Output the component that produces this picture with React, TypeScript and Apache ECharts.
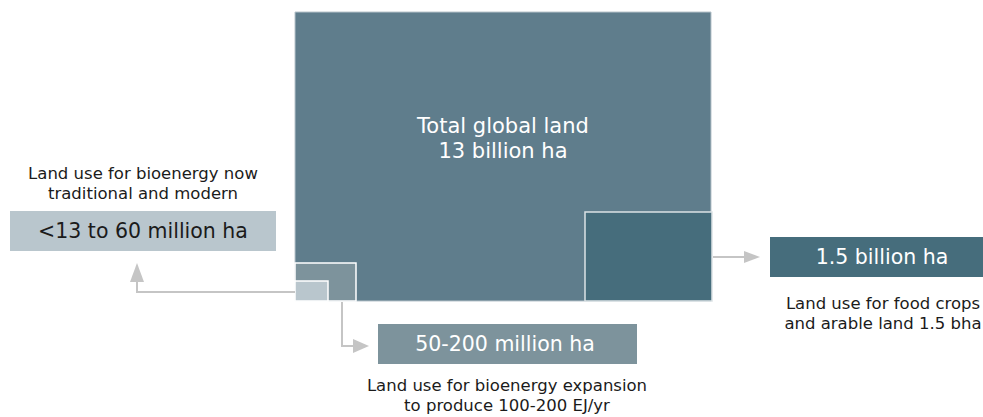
import React, { useEffect, useRef } from "react";
import * as echarts from "echarts";

// ---- data ----
const regionNames = ["Total global land", "Food crops and arable land", "Bioenergy expansion", "Bioenergy now"];
const regionAreasMha = [13000, 1500, 200, 60];
const centerTitle = ["Total global land", "13 billion ha"];
const boxLabels = ["<13 to 60 million ha", "1.5 billion ha", "50-200 million ha"];
const boxCaptions = [
  ["Land use for bioenergy now", "traditional and modern"],
  ["Land use for food crops", "and arable land 1.5 bha"],
  ["Land use for bioenergy expansion", "to produce 100-200 EJ/yr"],
];

// ---- layout (diagram coordinates on hidden axes) ----
const LAYOUT = {
  regions: [
    [295, 12, 711, 301],
    [585, 212, 712, 301],
    [295, 263, 356, 301],
    [295, 281, 328, 301],
  ],
  regionFill: ["#5f7d8c", "#466d7c", "#7d939c", "#b9c6cd"],
  regionStroke: ["#b8c4cb", "#dbe2e5", "#ffffff", "#ffffff"],
  titleCenter: [503, 125.5],
  titleStep: 25,
  boxes: [
    [10, 211, 276, 251],
    [770, 237, 1000, 277],
    [378, 324, 637, 364],
  ],
  boxFill: ["#b9c6cd", "#466d7c", "#7d939c"],
  boxText: ["#1b1b1b", "#ffffff", "#ffffff"],
  boxTextX: [143, 882, 505],
  captionX: [143, 883, 507],
  captionY: [173, 303, 385],
  captionStep: 20,
  arrows: [
    { path: [[295, 292], [137, 292], [137, 281]], head: [[137, 263], [130, 282], [144, 282]] },
    { path: [[342, 302], [342, 346], [354, 346]], head: [[369, 346], [353, 339], [353, 353]] },
    { path: [[713, 257], [745, 257]], head: [[760, 257], [744, 251], [744, 263]] },
  ],
};

const FONT = "'DejaVu Sans', sans-serif";
const ARROW = "#c5c5c5";

export default function App() {
  const ref = useRef<HTMLDivElement>(null);
  useEffect(() => {
    if (!ref.current) return;
    const chart = echarts.init(ref.current, undefined, { renderer: "svg" });
    const toPx = (api: any, p: number[]) => api.coord(p);

    const option: any = {
      animation: false,
      grid: { left: 0, right: 0, top: 0, bottom: 0 },
      xAxis: { type: "value", min: 0, max: 983, show: false },
      yAxis: { type: "value", min: 0, max: 417, inverse: true, show: false },
      series: [
        {
          type: "custom",
          name: "regions",
          clip: false,
          data: regionNames.map((n, i) => ({ name: n, value: [i, regionAreasMha[i]] })),
          renderItem: (params: any, api: any) => {
            const i = params.dataIndex;
            const r = LAYOUT.regions[i];
            const a = toPx(api, [r[0], r[1]]);
            const b = toPx(api, [r[2], r[3]]);
            const children: any[] = [
              {
                type: "rect",
                shape: { x: a[0], y: a[1], width: b[0] - a[0], height: b[1] - a[1] },
                style: { fill: LAYOUT.regionFill[i], stroke: LAYOUT.regionStroke[i], lineWidth: i === 0 ? 1 : 1.5 },
              },
            ];
            if (i === 0) {
              centerTitle.forEach((line, k) => {
                const c = toPx(api, [LAYOUT.titleCenter[0], LAYOUT.titleCenter[1] + k * LAYOUT.titleStep]);
                children.push({
                  type: "text",
                  style: {
                    text: line,
                    x: c[0],
                    y: c[1],
                    fill: "#ffffff",
                    fontSize: 21,
                    fontFamily: FONT,
                    align: "center",
                    verticalAlign: "middle",
                  },
                });
              });
            }
            return { type: "group", children };
          },
        },
        {
          type: "custom",
          name: "arrows",
          clip: false,
          data: LAYOUT.arrows.map((_, i) => [i, 0]),
          renderItem: (params: any, api: any) => {
            const ar = LAYOUT.arrows[params.dataIndex];
            return {
              type: "group",
              children: [
                {
                  type: "polyline",
                  shape: { points: ar.path.map((p) => toPx(api, p)) },
                  style: { stroke: ARROW, lineWidth: 2, fill: "none" },
                },
                {
                  type: "polygon",
                  shape: { points: ar.head.map((p) => toPx(api, p)) },
                  style: { fill: ARROW },
                },
              ],
            };
          },
        },
        {
          type: "custom",
          name: "labels",
          clip: false,
          data: boxLabels.map((l, i) => ({ name: l, value: [i, 0] })),
          renderItem: (params: any, api: any) => {
            const i = params.dataIndex;
            const bx = LAYOUT.boxes[i];
            const a = toPx(api, [bx[0], bx[1]]);
            const b = toPx(api, [bx[2], bx[3]]);
            const tc = toPx(api, [LAYOUT.boxTextX[i], (bx[1] + bx[3]) / 2]);
            const children: any[] = [
              {
                type: "rect",
                shape: { x: a[0], y: a[1], width: b[0] - a[0], height: b[1] - a[1] },
                style: { fill: LAYOUT.boxFill[i] },
              },
              {
                type: "text",
                style: {
                  text: boxLabels[i],
                  x: tc[0],
                  y: tc[1],
                  fill: LAYOUT.boxText[i],
                  fontSize: 20.5,
                  fontFamily: FONT,
                  align: "center",
                  verticalAlign: "middle",
                },
              },
            ];
            boxCaptions[i].forEach((line, k) => {
              const cc = toPx(api, [LAYOUT.captionX[i], LAYOUT.captionY[i] + k * LAYOUT.captionStep]);
              children.push({
                type: "text",
                style: {
                  text: line,
                  x: cc[0],
                  y: cc[1],
                  fill: "#1b1b1b",
                  fontSize: 16.5,
                  fontFamily: FONT,
                  align: "center",
                  verticalAlign: "middle",
                },
              });
            });
            return { type: "group", children };
          },
        },
      ],
    };
    chart.setOption(option);
    return () => chart.dispose();
  }, []);

  return (
    <div
      ref={ref}
      style={{ position: "fixed", left: 0, top: 0, width: 983, height: 417, background: "#ffffff" }}
    />
  );
}
